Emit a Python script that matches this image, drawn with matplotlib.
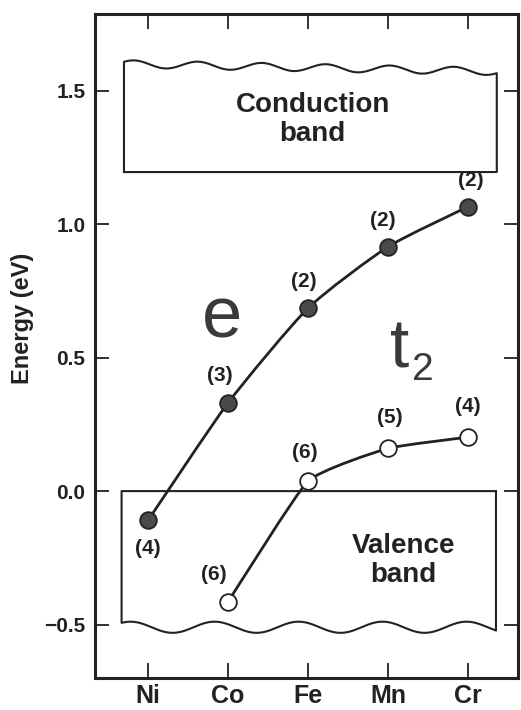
import numpy as np
import matplotlib
matplotlib.use("Agg")
import matplotlib.pyplot as plt
from matplotlib.path import Path
from matplotlib.patches import PathPatch

plt.rcParams['font.family'] = ['Liberation Sans', 'DejaVu Sans']
plt.rcParams['font.weight'] = 'bold'

elements = ['Ni', 'Co', 'Fe', 'Mn', 'Cr']
e_x = [0, 1, 2, 3, 4]
e_energy = [-0.11, 0.33, 0.685, 0.915, 1.065]
e_labels = ['(4)', '(3)', '(2)', '(2)', '(2)']
t2_x = [1, 2, 3, 4]
t2_energy = [-0.415, 0.037, 0.16, 0.202]
t2_labels = ['(6)', '(6)', '(5)', '(4)']
yticks = [-0.5, 0.0, 0.5, 1.0, 1.5]

INK = '#222222'


def smooth_path(xs, ys, k=10.0):
    # gently rounded line through the points (cubic Bezier pieces)
    pts = np.column_stack([xs, ys]).astype(float)
    verts = [pts[0]]
    codes = [Path.MOVETO]
    n = len(pts)
    for i in range(n - 1):
        p0 = pts[i - 1] if i > 0 else pts[i]
        p1 = pts[i]
        p2 = pts[i + 1]
        p3 = pts[i + 2] if i + 2 < n else pts[i + 1]
        c1 = p1 + (p2 - p0) / k
        c2 = p2 - (p3 - p1) / k
        verts += [c1, c2, p2]
        codes += [Path.CURVE4] * 3
    return Path(verts, codes)


def wavy_box(ax, x0, x1, y_flat, y_wave, amp, period, phase, slope, top_wavy):
    xw = np.linspace(x0, x1, 200)
    yw = y_wave + slope * (xw - x0) + amp * np.sin(2 * np.pi * (xw - x0) / period + phase)
    if top_wavy:
        xs = np.concatenate([[x0], xw, [x1, x0]])
        ys = np.concatenate([[y_flat], yw, [y_flat, y_flat]])
    else:
        xs = np.concatenate([[x1, x0], xw, [x1]])
        ys = np.concatenate([[y_flat, y_flat], yw, [y_flat]])
    ax.plot(xs, ys, color=INK, lw=1.5, solid_joinstyle='round', zorder=1)


fig = plt.figure(figsize=(5.21, 7.10), dpi=100)
ax = fig.add_axes([0.1823, 0.0451, 0.8119, 0.9352])

# bands
wavy_box(ax, -0.30, 4.36, 1.195, 1.600, 0.014, 0.80, 0.6, -0.006, True)
wavy_box(ax, -0.33, 4.35, 0.0, -0.51, 0.021, 1.05, 0.9, 0.0, False)
ax.text(2.06, 1.39, 'Conduction\nband', ha='center', va='center',
        fontsize=20, fontweight='bold', color=INK, linespacing=1.15)
ax.text(3.19, -0.26, 'Valence\nband', ha='center', va='center',
        fontsize=20, fontweight='bold', color=INK, linespacing=1.15)

# curves
ax.add_patch(PathPatch(smooth_path(e_x, e_energy), fill=False, ec=INK, lw=2.0, zorder=2))
ax.add_patch(PathPatch(smooth_path(t2_x, t2_energy, 14.0), fill=False, ec=INK, lw=2.0, zorder=2))
ax.plot(e_x, e_energy, 'o', ms=12, mfc='#4a4a4a', mec=INK, mew=1.3, zorder=3)
ax.plot(t2_x, t2_energy, 'o', ms=12, mfc='white', mec=INK, mew=1.3, zorder=3)

# occupation numbers
e_offsets = [(0, -20), (-6, 20), (-3, 19), (-4, 19), (2, 19)]
for x, y, lab, off in zip(e_x, e_energy, e_labels, e_offsets):
    ax.annotate(lab, (x, y), xytext=off, textcoords='offset points',
                ha='center', va='center', fontsize=15, fontweight='bold', color=INK)
t2_offsets = [(-10, 20), (-2, 21), (1, 22), (0, 22)]
for x, y, lab, off in zip(t2_x, t2_energy, t2_labels, t2_offsets):
    ax.annotate(lab, (x, y), xytext=off, textcoords='offset points',
                ha='center', va='center', fontsize=15, fontweight='bold', color=INK)

ax.text(0.93, 0.577, 'e', ha='center', va='baseline', fontsize=52,
        fontweight='normal', color='#3a3a3a')
ax.text(3.14, 0.464, 't', ha='center', va='baseline', fontsize=50,
        fontweight='normal', color='#3a3a3a')
ax.text(3.30, 0.416, '2', ha='left', va='baseline', fontsize=28,
        fontweight='normal', color='#3a3a3a')

ax.set_xlim(-0.6625, 4.625)
ax.set_ylim(-0.700, 1.787)
ax.set_xticks(e_x)
ax.set_xticklabels(elements)
ax.set_yticks(yticks)
ax.set_yticklabels([f'{v:.1f}'.replace('-', '\u2212') for v in yticks])

ax.tick_params(axis='x', direction='in', length=11, width=1.3, top=True,
               labelsize=18, pad=4, colors=INK)
ax.tick_params(axis='y', direction='in', length=10, width=1.3, right=True,
               labelsize=15, pad=7, colors=INK)
for lab in ax.get_xticklabels() + ax.get_yticklabels():
    lab.set_fontweight('bold')
for sp in ax.spines.values():
    sp.set_linewidth(2.2)
    sp.set_color(INK)

fig.text(22 / 521, 1 - 318 / 710, 'Energy (eV)', rotation=90, ha='center',
         va='center', fontsize=17, fontweight='bold', color=INK)

fig.savefig('out.png', dpi=100)
